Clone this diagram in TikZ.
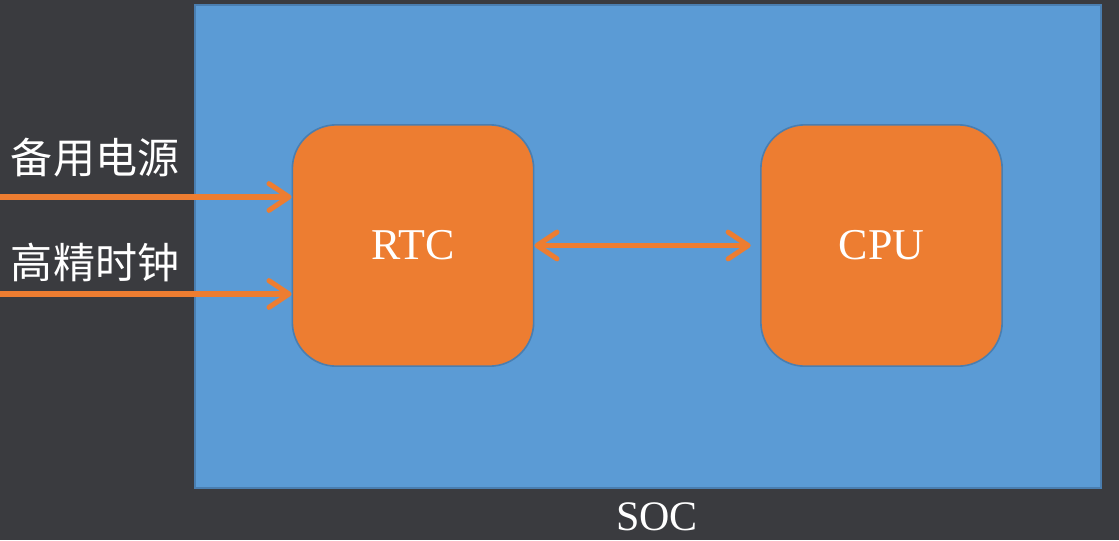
\documentclass[tikz,border=0pt]{standalone}
\usepackage{fontspec}
\setmainfont{Liberation Serif}
\newfontfamily\cjkfont{Noto Sans CJK SC}
\usepackage{xcolor}
\usetikzlibrary{arrows.meta,positioning}

\definecolor{bgdark}{HTML}{3A3B3F}
\definecolor{socblue}{HTML}{5B9BD5}
\definecolor{socedge}{HTML}{4A7EB0}
\definecolor{chiporange}{HTML}{ED7D31}

\begin{document}
\begin{tikzpicture}[
  x=0.75pt, y=-0.75pt,
  chip/.style={draw=socedge, line width=1.2pt, fill=chiporange, rounded corners=33pt,
    minimum width=181pt, minimum height=181pt, font=\fontsize{33}{35}\selectfont,
    text=white, inner sep=0pt},
  label/.style={text=white, font=\cjkfont\fontsize{31.5}{33}\selectfont, inner sep=0pt},
  wire/.style={draw=chiporange, line width=3.8pt,
    -{Straight Barb[length=15pt, width=20pt, round]}},
  dwire/.style={wire, {Straight Barb[length=15pt, width=20pt, round]}-{Straight Barb[length=15pt, width=20pt, round]}}
]
  \fill[bgdark] (0,0) rectangle (1119,540);
  \useasboundingbox (0,0) rectangle (1119,540);

  \draw[fill=socblue, draw=socedge, line width=1.5pt] (195,5) rectangle (1101,488);
  \node[text=white, font=\fontsize{31.5}{33}\selectfont, inner sep=0pt] (soc) at (657,517) {SOC};

  \node[chip] (rtc) at (413,245.5) {RTC};
  \node[chip] (cpu) at (881.5,245.5) {CPU};

  \coordinate (pwrin) at (0,197);
  \coordinate (clkin) at (0,294);
  \node[label] (pwr) at (95,158) {备用电源};
  \node[label] (clk) at (95,262) {高精时钟};

  \draw[wire] (pwrin) -- (pwrin -| rtc.west);
  \draw[wire] (clkin) -- (clkin -| rtc.west);
  \draw[dwire] (rtc.east) -- ([xshift=-7pt]cpu.west);
\end{tikzpicture}
\end{document}
